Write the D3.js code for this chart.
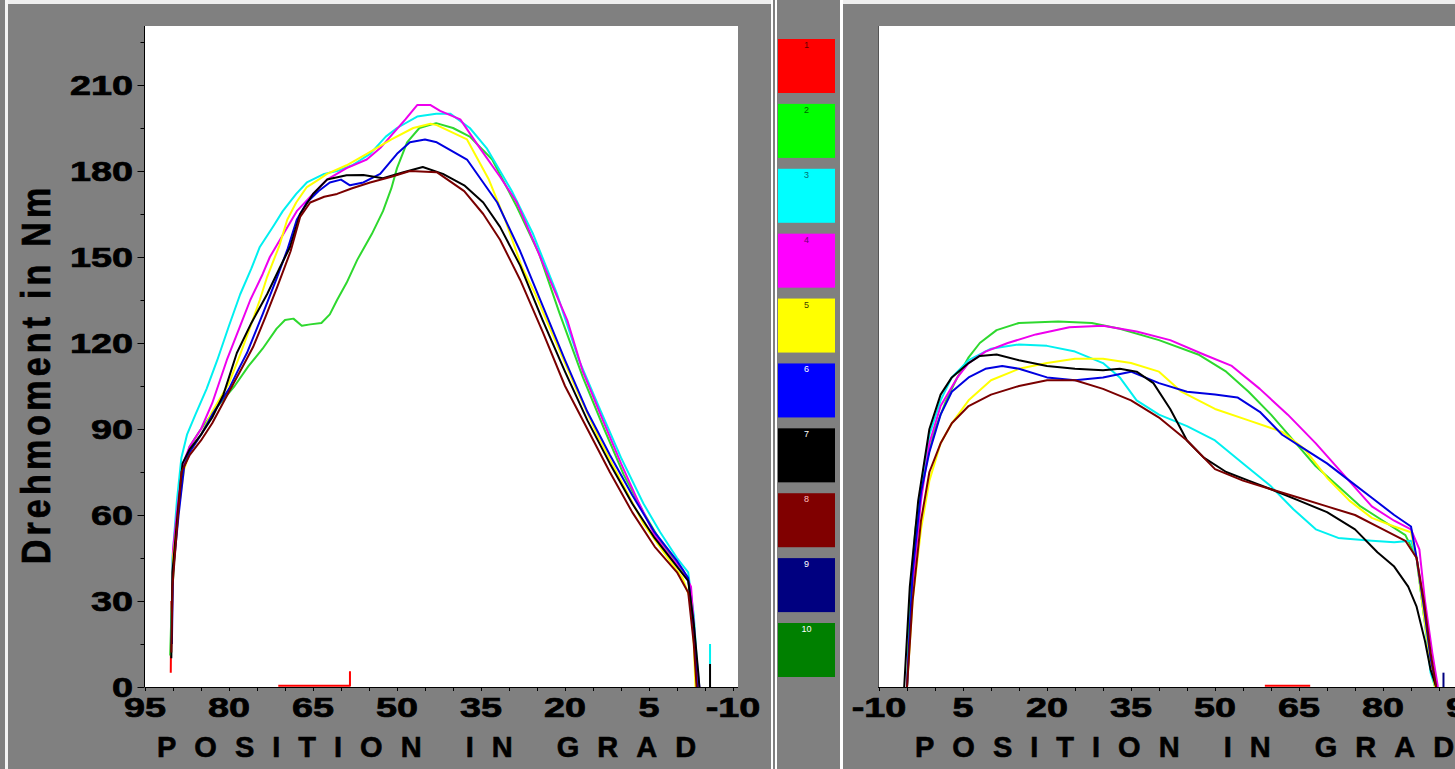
<!DOCTYPE html>
<html>
<head>
<meta charset="utf-8">
<script src="https://cdn.jsdelivr.net/npm/d3@7"></script>
<style>
  html, body { margin: 0; padding: 0; background: #808080; overflow: hidden; }
  svg { display: block; font-family: "Liberation Sans", Arial, sans-serif; }
</style>
</head>
<body>
<svg id="chart" width="1455" height="769"></svg>
<script>
// ---- data ----
const yTicks = [0, 30, 60, 90, 120, 150, 180, 210];
const leftTickLabels = [95, 80, 65, 50, 35, 20, 5, -10];
const rightTickLabels = [-10, 5, 20, 35, 50, 65, 80, 95];
const legendLabels = ["1", "2", "3", "4", "5", "6", "7", "8", "9", "10"];
const legendColors = ["#ff0000", "#00ff00", "#00ffff", "#ff00ff", "#ffff00",
                      "#0000ff", "#000000", "#800000", "#000080", "#008000"];
const legendTextColors = ["#600000", "#006000", "#007070", "#700070", "#404000",
                          "#ffffff", "#ffffff", "#ffc0c0", "#ffffff", "#ffffff"];

// [position in grad, torque in Nm]; null breaks the line
const left1 = [[90.4, 5], [90.3, 30], null, [71.2, 0.4], [58.4, 0.4], [58.4, 5.5]];
const left2 = [[90.5, 11], [90.3, 25], [89.8, 45], [89, 63], [88.2, 76], [87, 84], [85, 90], [82, 98], [79, 105], [76.5, 112], [74, 118], [71.5, 125], [70, 128], [68.5, 128.5], [67, 126], [65.5, 126.5], [63.5, 127], [62, 130], [60.7, 135], [59, 141], [57.1, 149], [54.5, 158], [52.5, 166], [51, 174], [50, 181], [49, 186], [48.2, 190], [46, 195], [43, 196.7], [40, 195], [37, 192], [33, 184], [28.6, 167.5], [24.6, 151], [21, 130.5], [16.8, 108], [13, 90], [9.5, 74], [6, 61], [3, 51], [0, 43], [-2, 38], [-3, 20], [-3.5, 0]];
const left3 = [[90.3, 15], [90.1, 45], [89.3, 65], [88.5, 80], [87.5, 88], [86, 95], [84, 104], [82.1, 114], [80, 126], [78, 137], [76, 146], [74.5, 153.5], [72, 161], [70.4, 166], [68, 172], [66.1, 176], [63, 179], [60.7, 180], [58, 182], [54.8, 186], [52, 192], [50, 195], [46.4, 199], [43, 200], [40.5, 200], [37, 195], [34, 188], [29.5, 173], [25.7, 158], [21.5, 137.5], [17.5, 114], [14, 98], [10, 80], [6, 64], [3, 54], [0, 45], [-2, 40], [-3, 25], [-3.5, 10], [-4, 0], null, [-5.9, 8], [-5.9, 15]];
const left4 = [[90.2, 20], [90, 48], [89, 66], [88.2, 78], [87, 84], [85, 90], [83, 99], [80.4, 114], [78, 126], [76.2, 135], [74, 144], [72.7, 150], [70, 159], [67.9, 166], [65, 172], [62.5, 177], [59, 181], [55.4, 184], [53, 188], [51.2, 192], [48.5, 198], [46.4, 203], [44, 203], [42.3, 201], [38.7, 198], [35.2, 188], [31.6, 178], [28.6, 169], [25.7, 156], [22.7, 142], [19.6, 128], [16.8, 110], [13, 92], [10, 78], [7, 65], [4, 53], [1, 45], [-1, 41], [-2.5, 35], [-3, 22], [-3.5, 8], [-4, 0]];
const left5 = [[90.2, 20], [90, 45], [89, 62], [88, 76], [87, 82], [85, 88], [83, 96], [80, 106], [78, 116], [76.2, 125.6], [74.5, 135], [73.2, 143], [71, 154], [69.6, 163], [68, 169], [66.1, 174.4], [64, 177], [62.5, 179], [59, 182], [55.4, 186], [51, 191], [47.1, 195], [44, 196.5], [42.9, 196], [37.5, 191], [33.6, 177], [30.7, 163], [27.7, 146.5], [25.4, 137.5], [22, 122], [18, 104], [14, 87], [10, 72], [6, 57], [2, 46], [-1, 38], [-2.5, 30], [-3, 15], [-3.3, 0]];
const left6 = [[90.2, 15], [90, 40], [89, 60], [88, 77], [87, 82], [85, 88], [83, 95], [80, 104], [78.5, 110], [76.8, 116.5], [74, 130], [71.4, 143], [69.5, 153], [67.9, 163], [66.1, 169], [64, 173], [62, 176], [60, 177], [58.4, 175], [56, 176], [53, 179], [50, 186], [47.7, 190], [45, 191], [42.9, 190], [37.5, 184], [32.1, 169], [28, 152], [24, 133], [20, 114], [16, 96], [12, 81], [8, 67], [4, 54], [0, 44], [-2, 38], [-3, 20], [-3.6, 0]];
const left7 = [[90.3, 10], [90.1, 40], [89.2, 60], [88.3, 78], [87, 83], [85, 88], [83, 94], [81, 102], [78.6, 116.5], [76, 127], [73.2, 137], [71, 146], [69.1, 153.5], [67.3, 165], [65, 172], [62.5, 177], [59, 178.5], [56, 178.6], [52.5, 177.5], [49, 179.5], [45.4, 181.4], [41.8, 179], [38, 175], [34.6, 169], [31.6, 160.5], [28, 147], [24, 128], [20, 110], [16, 93], [12, 78], [8, 64], [4, 52], [0, 42], [-2, 37], [-3, 22], [-3.8, 5], [-4, 0], null, [-5.9, 0], [-5.9, 8]];
const left8 = [[90.3, 12], [90.1, 35], [89.3, 55], [88.5, 75], [87, 81], [85, 86], [83, 92], [80, 103], [77.5, 112], [75.7, 118.6], [73.5, 129], [71.4, 139.5], [69, 152], [67.3, 164], [65.5, 169], [63, 171], [60.7, 172], [58, 174], [54.8, 176], [51, 178], [47.7, 180], [42.9, 179.6], [38, 173], [34.6, 165], [31.6, 156], [28, 142], [24, 124], [20, 105], [16, 90], [12, 75], [8, 61], [4, 49], [0, 40], [-2, 33], [-3, 15], [-3.5, 0]];

const right1 = [[58.9, 0.4], [67, 0.4]];
const right2 = [[-5, 0], [-4.5, 30], [-3.5, 55], [-2, 75], [0, 90], [2, 100], [4, 108], [6, 115], [8, 120], [11, 124.5], [15, 127], [22, 127.5], [28, 127], [33, 125], [40, 121], [47, 116], [52, 110], [56, 103], [60, 95], [64, 86], [68, 77], [72, 70], [76, 63], [80, 58], [84, 53], [86, 45], [87.3, 25], [88.5, 10], [89.3, 0]];
const right3 = [[-5, 0], [-4, 40], [-2.5, 70], [-1, 88], [1, 100], [3, 108], [6, 114], [10, 118], [15, 119.5], [20, 119], [25, 117], [30, 113], [33, 108], [36, 100], [40, 95], [45, 91], [50, 86], [55, 78], [60, 70], [64, 62], [68, 55], [72, 52], [78, 51], [82, 50.5], [85, 51], [86, 45], [87.3, 25], [88.5, 5], [89.3, 0]];
const right4 = [[-5, 0], [-4, 35], [-2.5, 65], [-1, 85], [1, 98], [4, 108], [6, 113], [9, 117], [13, 120], [18, 123], [24, 125.5], [30, 126], [36, 124], [42, 121], [48, 116], [53, 112], [58, 104], [63, 95], [68, 85], [73, 74], [78, 63], [82, 58], [85, 55], [86.5, 48], [87.5, 30], [88.8, 12], [89.8, 0]];
const right5 = [[-5, 0], [-4, 30], [-2.5, 55], [-1, 72], [1, 85], [3, 92], [6, 100], [10, 107], [15, 111], [20, 113], [25, 114.5], [30, 114.5], [35, 113], [40, 110], [44, 103], [50, 97], [56, 93], [62, 89], [66, 83], [70, 73], [74, 65], [78, 59], [82, 56], [85, 54], [86, 45], [87.3, 25], [88.5, 8], [89.3, 0]];
const right6 = [[-5, 0], [-4, 40], [-2.5, 68], [-1, 82], [1, 95], [3, 103], [6, 108], [9, 111], [12, 112], [15, 111], [20, 108], [25, 107], [30, 108], [35, 110], [40, 106], [45, 103], [50, 102], [54, 101], [58, 96], [62, 88], [66, 83], [70, 78], [74, 72], [78, 66], [82, 60], [85, 56], [86, 45], [87.3, 28], [88.5, 10], [89.5, 0]];
const right7 = [[-5.5, 0], [-4.5, 35], [-3, 65], [-1, 90], [1, 102], [3, 108], [6, 113], [8, 115.5], [11, 116], [15, 114], [20, 112], [25, 111], [30, 110.5], [33, 111], [36, 110], [39, 106], [42, 97], [45, 86], [48, 80], [52, 75], [56, 72], [60, 69], [65, 65], [70, 61], [75, 55], [79, 47], [82, 42], [84.5, 35], [86, 28], [87.5, 16], [88.5, 6], [89.5, 0]];
const right8 = [[-5, 0], [-4, 30], [-2.5, 58], [-1, 75], [1, 85], [3, 92], [6, 98], [10, 102], [15, 105], [20, 107], [25, 107], [30, 104], [35, 100], [40, 94], [45, 86], [50, 76], [55, 72], [60, 69], [65, 66], [70, 63], [75, 60], [80, 55], [84, 51], [86, 45], [87.3, 30], [88.5, 12], [89.5, 0]];
const right9 = [[90.8, 0], [90.8, 5]];

const lineColors = {1: "#ff0000", 2: "#2ed82e", 3: "#00f0f0", 4: "#ee00ee", 5: "#ffff00",
                    6: "#0000e0", 7: "#000000", 8: "#7a0000", 9: "#000080"};

const leftSeries = [[1, left1], [2, left2], [3, left3], [4, left4], [5, left5], [6, left6], [7, left7], [8, left8]];
const rightSeries = [[1, right1], [2, right2], [3, right3], [4, right4], [5, right5], [6, right6], [7, right7], [8, right8], [9, right9]];

// ---- layout ----
const svg = d3.select("#chart");
const plotTop = 26, plotBottom = 687;
const y = d3.scaleLinear().domain([0, 210]).range([687, 85]);

const panels = [
  {id: "L", x0: 145, x1: 738, x: d3.scaleLinear().domain([95, -10]).range([145, 733]),
   labels: leftTickLabels, series: leftSeries, yAxis: true, titleX: 157},
  {id: "R", x0: 878, x1: 1471, x: d3.scaleLinear().domain([-10, 95]).range([879, 1467]),
   labels: rightTickLabels, series: rightSeries, yAxis: false, titleX: 915}
];

// background frame details
svg.append("rect").attr("width", 1455).attr("height", 769).attr("fill", "#808080");
svg.append("rect").attr("x", 5).attr("y", 0).attr("width", 3).attr("height", 769).attr("fill", "#f4f4f4");
svg.append("rect").attr("x", 8).attr("y", 0).attr("width", 763).attr("height", 4).attr("fill", "#eeeeee");
svg.append("rect").attr("x", 843).attr("y", 0).attr("width", 612).attr("height", 4).attr("fill", "#eeeeee");
[771, 775, 840].forEach(xv => {
  svg.append("rect").attr("x", xv).attr("y", 0).attr("width", xv === 840 ? 3 : 2)
    .attr("height", 769).attr("fill", "#ffffff");
});

// heavy, wide numerals like the original
const fontStyle = sel => sel
  .attr("font-weight", "bold")
  .attr("font-size", 28)
  .attr("fill", "#000")
  .attr("stroke", "#000")
  .attr("stroke-width", 0.7);

panels.forEach(p => {
  const g = svg.append("g");
  g.append("rect").attr("x", p.x0).attr("y", plotTop)
    .attr("width", p.x1 - p.x0).attr("height", plotBottom - plotTop).attr("fill", "#fff");

  svg.append("clipPath").attr("id", "clip" + p.id)
    .append("rect").attr("x", p.x0).attr("y", plotTop - 2)
    .attr("width", p.x1 - p.x0).attr("height", plotBottom - plotTop + 3);

  // curves
  const pl = d3.line().defined(d => d !== null).x(d => p.x(d[0])).y(d => y(d[1]));
  g.append("g").attr("clip-path", `url(#clip${p.id})`)
    .selectAll("path").data(p.series).join("path")
    .attr("d", d => pl(d[1]))
    .attr("fill", "none")
    .attr("stroke", d => lineColors[d[0]])
    .attr("stroke-width", 2)
    .attr("stroke-linejoin", "round");

  // x axis: ticks every 5 grad
  const xTickVals = d3.range(-10, 96, 5);
  const xAxis = d3.axisBottom(p.x).tickValues(xTickVals).tickSize(4).tickSizeOuter(0).tickFormat("");
  g.append("g").attr("transform", `translate(0,${plotBottom})`).call(xAxis)
    .call(a => a.select(".domain").attr("d", `M${p.x0},0.5H${Math.min(p.x1, 1455)}`).attr("stroke", "#000"));

  g.selectAll("text.xl").data(p.labels).join("text")
    .attr("class", "xl")
    .attr("transform", d => `translate(${p.x(d)},717) scale(1.35,1)`)
    .attr("text-anchor", "middle")
    .text(d => d)
    .call(fontStyle);

  // axis title
  g.append("text")
    .attr("x", p.titleX).attr("y", 757)
    .attr("font-weight", "bold").attr("font-size", 29)
    .attr("stroke", "#000").attr("stroke-width", 0.6)
    .attr("letter-spacing", 18)
    .text("POSITION IN GRAD");

  // y axis
  if (p.yAxis) {
    const yAxis = d3.axisLeft(y).tickValues(d3.range(0, 226, 15)).tickSize(0).tickFormat("");
    const ya = g.append("g").attr("transform", `translate(${p.x0 - 0.5},0)`).call(yAxis);
    ya.select(".domain").attr("d", `M0,${plotTop}V${plotBottom}`).attr("stroke", "#000");
    ya.selectAll(".tick line")
      .attr("x2", d => d % 30 === 0 ? -7 : -4)
      .attr("stroke", "#000");

    g.selectAll("text.yl").data(yTicks).join("text")
      .attr("class", "yl")
      .attr("transform", d => `translate(133,${y(d) + 10}) scale(1.35,1)`)
      .attr("text-anchor", "end")
      .text(d => d)
      .call(fontStyle);
  } else {
    g.append("line").attr("x1", p.x0 + 0.5).attr("x2", p.x0 + 0.5)
      .attr("y1", plotTop).attr("y2", plotBottom).attr("stroke", "#555");
  }
});

// y axis title
svg.append("text")
  .attr("transform", "translate(50,374) rotate(-90) scale(1,1.2)")
  .attr("text-anchor", "middle")
  .attr("font-weight", "bold")
  .attr("font-size", 34)
  .attr("letter-spacing", 4.2)
  .attr("stroke", "#000").attr("stroke-width", 0.6)
  .text("Drehmoment in Nm");

// legend column
const legend = svg.append("g");
const boxY = d3.scaleLinear().domain([0, 9]).range([39, 623]);
legend.selectAll("rect.box").data(legendLabels).join("rect")
  .attr("class", "box")
  .attr("x", 778).attr("y", (d, i) => boxY(i))
  .attr("width", 57).attr("height", 54)
  .attr("fill", (d, i) => legendColors[i]);
legend.selectAll("text").data(legendLabels).join("text")
  .attr("x", 806.5).attr("y", (d, i) => boxY(i) + 9)
  .attr("text-anchor", "middle")
  .attr("font-size", 9)
  .attr("fill", (d, i) => legendTextColors[i])
  .text(d => d);
</script>
</body>
</html>
